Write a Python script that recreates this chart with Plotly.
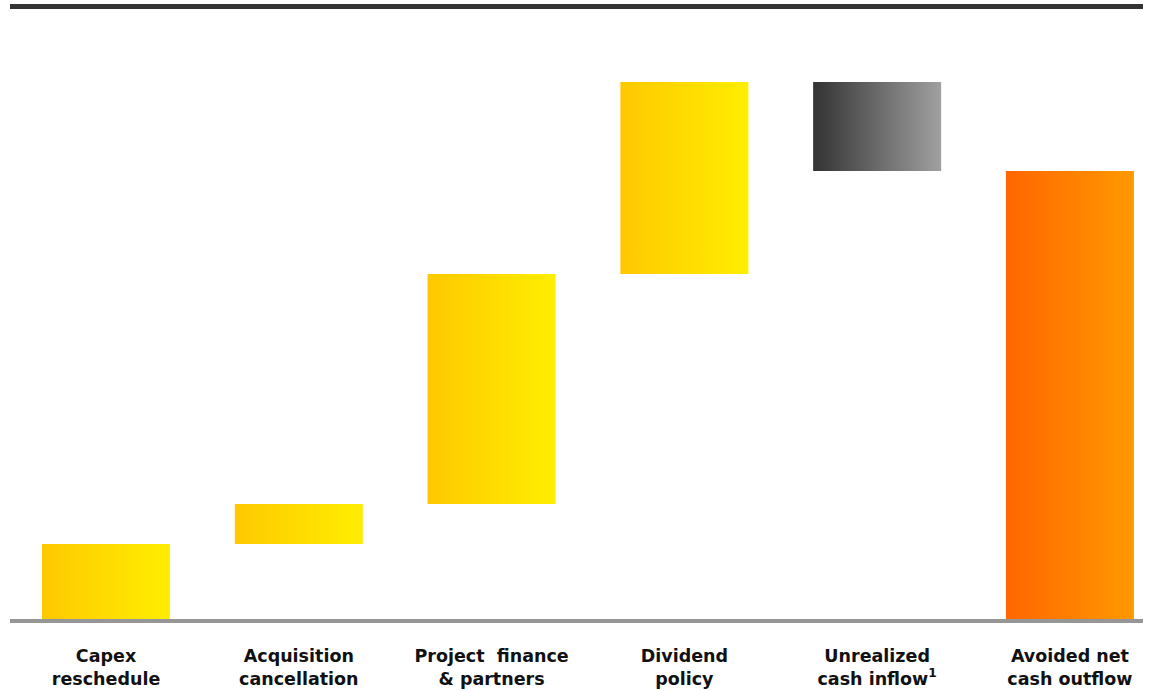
import plotly.graph_objects as go

# ---- data ----
categories = [
    "Capex<br>reschedule",
    "Acquisition<br>cancellation",
    "Project  finance<br>& partners",
    "Dividend<br>policy",
    "Unrealized<br>cash inflow<sup>1</sup>",
    "Avoided net<br>cash outflow",
]
step_values = [75, 40, 230, 192, -89]          # contributions (arbitrary units)
total_value = sum(step_values)                 # final bar (448)
bar_kinds = ["gain", "gain", "gain", "gain", "loss", "total"]

gradients = {
    "gain": [[0, "#FFC800"], [1, "#FFEE00"]],
    "loss": [[0, "#333333"], [1, "#A0A0A0"]],
    "total": [[0, "#FF6600"], [1, "#FF9900"]],
}

BAR_W = 0.664

fig = go.Figure()

# build floating bars from cumulative values
cum = 0
lows, highs = [], []
for v in step_values:
    lo, hi = min(cum, cum + v), max(cum, cum + v)
    lows.append(lo)
    highs.append(hi)
    cum += v
lows.append(0)
highs.append(total_value)

for i, (lo, hi, kind) in enumerate(zip(lows, highs, bar_kinds)):
    x0, x1 = i - BAR_W / 2, i + BAR_W / 2
    fig.add_trace(go.Scatter(
        x=[x0, x1, x1, x0, x0],
        y=[lo, lo, hi, hi, lo],
        mode="lines",
        line=dict(width=0),
        fill="toself",
        fillgradient=dict(type="horizontal", colorscale=gradients[kind]),
        hoverinfo="skip",
        showlegend=False,
    ))

fig.update_layout(
    width=1151,
    height=691,
    margin=dict(l=10, r=8, t=0, b=72),
    paper_bgcolor="white",
    plot_bgcolor="white",
    showlegend=False,
    xaxis=dict(
        range=[-0.498, 5.379],
        tickmode="array",
        tickvals=list(range(len(categories))),
        ticktext=["<b>" + c + "</b>" for c in categories],
        tickfont=dict(family="DejaVu Sans", size=17.5, color="#111111"),
        showgrid=False,
        zeroline=False,
        showline=True,
        linecolor="#969696",
        linewidth=4,
        ticks="",
        ticklabelstandoff=18,
        fixedrange=True,
    ),
    yaxis=dict(
        range=[0, 619],
        showgrid=False,
        zeroline=False,
        showline=False,
        showticklabels=False,
        ticks="",
        fixedrange=True,
    ),
    shapes=[
        dict(type="line", xref="paper", yref="paper",
             x0=0, x1=1, y0=(619 - 6.5) / 619, y1=(619 - 6.5) / 619,
             line=dict(color="#333333", width=5)),
    ],
)

fig.write_html("out.html")
